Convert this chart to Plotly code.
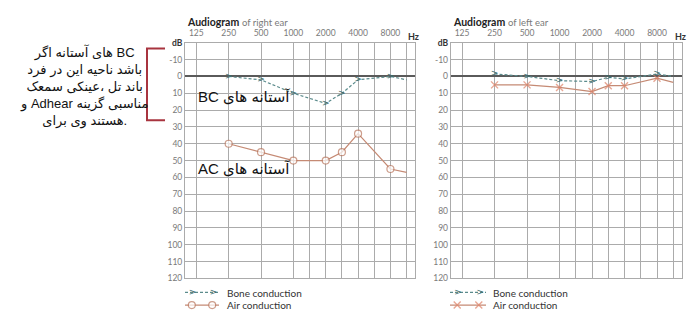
import math
import plotly.graph_objects as go

W, H = 700, 327

# ---------------- data ----------------
FREQS = [250, 500, 1000, 2000, 3000, 4000, 8000, 12000]
RIGHT_BC = [0, 2, 10, 16, 10, 2, 0, 2]
RIGHT_AC = [40, 45, 50, 50, 45, 34, 55, 57]
LEFT_BC = [-1.5, 0, 2.5, 3, 0.5, 1.5, -1.5, 0]
LEFT_AC = [5, 5, 6.5, 9, 5.5, 5.5, 1, 3.5]
SHOW_MARK = [True, True, True, True, True, True, True, False]

GRID_FREQS = [125, 250, 500, 1000, 1500, 2000, 3000, 4000, 6000, 8000, 12000]
GRID_LABELS = ["125", "250", "500", "1000", "", "2000", "", "4000", "", "8000", ""]
DB_TICKS = list(range(-20, 121, 10))
DB_LABELS = ["<b><span style='color:#333'>dB</span></b>"] + [str(v) for v in range(-10, 121, 10)]

NOTE_LINES = ["اگر آستانه های BC", "فرد در این ناحیه باشد", "سمعک عینکی، تل باند",
              "و Adhear گزینه مناسبی", "برای وی هستند."]
LABEL_BC = "آستانه های BC"
LABEL_AC = "آستانه های AC"

BC_LINE = "#5b8b8c"
BC_MARK = "#3b6a6b"
AC_LINE = "#c58a74"
AC_MARK = "#b9765d"
AC_X = "#de8266"
GRID = "#ababab"


def pos(f):
    return round(2 * math.log2(f / 125)) / 2


def px(x):
    return x / W


def py(y):
    return 1 - y / H


xs = [pos(f) for f in FREQS]
gx = [pos(f) for f in GRID_FREQS]

fig = go.Figure()

# right ear (left plot)
fig.add_trace(go.Scatter(x=xs, y=RIGHT_AC, mode="lines+markers", xaxis="x", yaxis="y",
                         line=dict(color=AC_LINE, width=1.2),
                         marker=dict(symbol="circle", size=[7 if s else 0 for s in SHOW_MARK],
                                     color="white", line=dict(color=AC_MARK, width=1.2)),
                         showlegend=False, cliponaxis=False))
fig.add_trace(go.Scatter(x=xs, y=RIGHT_BC, mode="lines+text", xaxis="x", yaxis="y",
                         line=dict(color=BC_LINE, width=1.2, dash="3px,2px"),
                         text=[">" if s else "" for s in SHOW_MARK], textposition="middle center",
                         textfont=dict(family="DejaVu Sans", size=9, color=BC_MARK),
                         showlegend=False, cliponaxis=False))
# left ear (right plot)
fig.add_trace(go.Scatter(x=xs, y=LEFT_AC, mode="lines+markers", xaxis="x2", yaxis="y2",
                         line=dict(color=AC_LINE, width=1.2),
                         marker=dict(symbol="x-thin-open", size=[7 if s else 0 for s in SHOW_MARK],
                                     color=AC_X, line=dict(color=AC_X, width=1.4)),
                         showlegend=False, cliponaxis=False))
fig.add_trace(go.Scatter(x=xs, y=LEFT_BC, mode="lines+text", xaxis="x2", yaxis="y2",
                         line=dict(color=BC_LINE, width=1.2, dash="3px,2px"),
                         text=[">" if s else "" for s in SHOW_MARK], textposition="middle center",
                         textfont=dict(family="DejaVu Sans", size=9, color=BC_MARK),
                         showlegend=False, cliponaxis=False))

# legend samples (hidden axes)
for xa, ya, air_sym in (("x3", "y3", "circle"), ("x4", "y4", "x-thin-open")):
    fig.add_trace(go.Scatter(x=[0, 1], y=[1, 1], mode="lines", xaxis=xa, yaxis=ya,
                             line=dict(color=BC_LINE, width=1.2, dash="3px,2px"), showlegend=False))
    fig.add_trace(go.Scatter(x=[0.22, 0.84], y=[1, 1], mode="text", xaxis=xa, yaxis=ya, text=[">", ">"],
                             textposition="middle center",
                             textfont=dict(family="DejaVu Sans", size=9, color=BC_MARK), showlegend=False))
    if air_sym == "circle":
        mk = dict(symbol="circle", size=7, color="white", line=dict(color=AC_MARK, width=1.2))
    else:
        mk = dict(symbol="x-thin-open", size=7, color=AC_X, line=dict(color=AC_X, width=1.4))
    fig.add_trace(go.Scatter(x=[0, 0.2, 0.8, 1], y=[0, 0, 0, 0], mode="lines+markers", xaxis=xa, yaxis=ya,
                             line=dict(color=AC_LINE, width=1.2),
                             marker=dict(mk, size=[0, 7, 7, 0]), showlegend=False))

tickfont = dict(family="Lato", size=8.5, color="#7a7a7a")

def xax(domain):
    return dict(domain=domain, range=[-0.35, 6.76], side="top", tickmode="array", tickvals=gx,
                ticktext=GRID_LABELS, showgrid=True, gridcolor=GRID, gridwidth=1, zeroline=False,
                showline=True, mirror=True, linecolor=GRID, linewidth=1, ticks="",
                tickfont=tickfont, fixedrange=True, ticklabelstandoff=2)

def yax(anchor):
    return dict(domain=[py(282), py(39)], range=[120, -20], tickmode="array", tickvals=DB_TICKS,
                ticktext=DB_LABELS, showgrid=True, gridcolor=GRID, gridwidth=1, zeroline=True,
                zerolinecolor="#5a5a5a", zerolinewidth=2, showline=True, mirror=True,
                linecolor=GRID, linewidth=1, ticks="", tickfont=tickfont, anchor=anchor,
                fixedrange=True)

hidden = dict(visible=False, showgrid=False, zeroline=False, fixedrange=True)

LEFT_DOM = [px(185), px(415)]
RIGHT_DOM = [px(450.7), px(681.7)]

fig.update_layout(
    width=W, height=H, margin=dict(l=0, r=0, t=0, b=0),
    paper_bgcolor="white", plot_bgcolor="white", showlegend=False,
    xaxis=dict(xax(LEFT_DOM), anchor="y"),
    yaxis=yax("x"),
    xaxis2=dict(xax(RIGHT_DOM), anchor="y2"),
    yaxis2=yax("x2"),
    xaxis3=dict(hidden, domain=[px(185), px(219)], range=[0, 1], anchor="y3"),
    yaxis3=dict(hidden, domain=[py(316), py(290)], range=[-0.5, 1.5], anchor="x3"),
    xaxis4=dict(hidden, domain=[px(450), px(486)], range=[0, 1], anchor="y4"),
    yaxis4=dict(hidden, domain=[py(316), py(290)], range=[-0.5, 1.5], anchor="x4"),
)

ann = []
# titles
for x0, which in ((185, "right"), (451, "left")):
    ann.append(dict(xref="paper", yref="paper", x=px(x0), y=py(18), xanchor="left", yanchor="middle",
                    showarrow=False,
                    text=f"<b>Audiogram</b> <span style='font-size:9.5px;color:#7a7a7a'>of {which} ear</span>",
                    font=dict(family="Lato", size=10.5, color="#222")))
# Hz labels
for xh in (413, 680):
    ann.append(dict(xref="paper", yref="paper", x=px(xh), y=py(32.5), xanchor="center", yanchor="middle",
                    showarrow=False, text="<b>Hz</b>", font=dict(family="Lato", size=9, color="#333")))
# legend labels
for xl in (225, 491):
    ann.append(dict(xref="paper", yref="paper", x=px(xl), y=py(296.7), xanchor="left", yanchor="middle",
                    showarrow=False, text="Bone conduction", font=dict(family="Lato", size=10, color="#333")))
    ann.append(dict(xref="paper", yref="paper", x=px(xl), y=py(309.7), xanchor="left", yanchor="middle",
                    showarrow=False, text="Air conduction", font=dict(family="Lato", size=10, color="#333")))
# in-plot labels (right-to-left)
for txt, yy in ((LABEL_BC, 94), (LABEL_AC, 168.3)):
    ann.append(dict(xref="paper", yref="paper", x=px(196), y=py(yy), xanchor="left", yanchor="middle",
                    showarrow=False, text="\u202b" + txt + "\u202c",
                    font=dict(family="Liberation Sans, DejaVu Sans", size=15, color="#111")))
# side note (words laid out left-to-right as in the picture)
note = "<br>".join("\u202a\u200e" + "\u200e \u200e".join(line.split(" ")) + "\u200e\u202c"
                   for line in NOTE_LINES)
ann.append(dict(xref="paper", yref="paper", x=px(84), y=py(84), xanchor="center", yanchor="middle",
                showarrow=False, align="center", text=note,
                font=dict(family="Liberation Sans, DejaVu Sans", size=13, color="#111")))
fig.update_layout(annotations=ann)

# bracket
fig.add_shape(type="path", xref="paper", yref="paper",
              path=f"M {px(165)},{py(45)} L {px(147)},{py(45)} L {px(147)},{py(119)} L {px(165)},{py(119)}",
              line=dict(color="#a8343f", width=2))

fig.write_html("out.html")
